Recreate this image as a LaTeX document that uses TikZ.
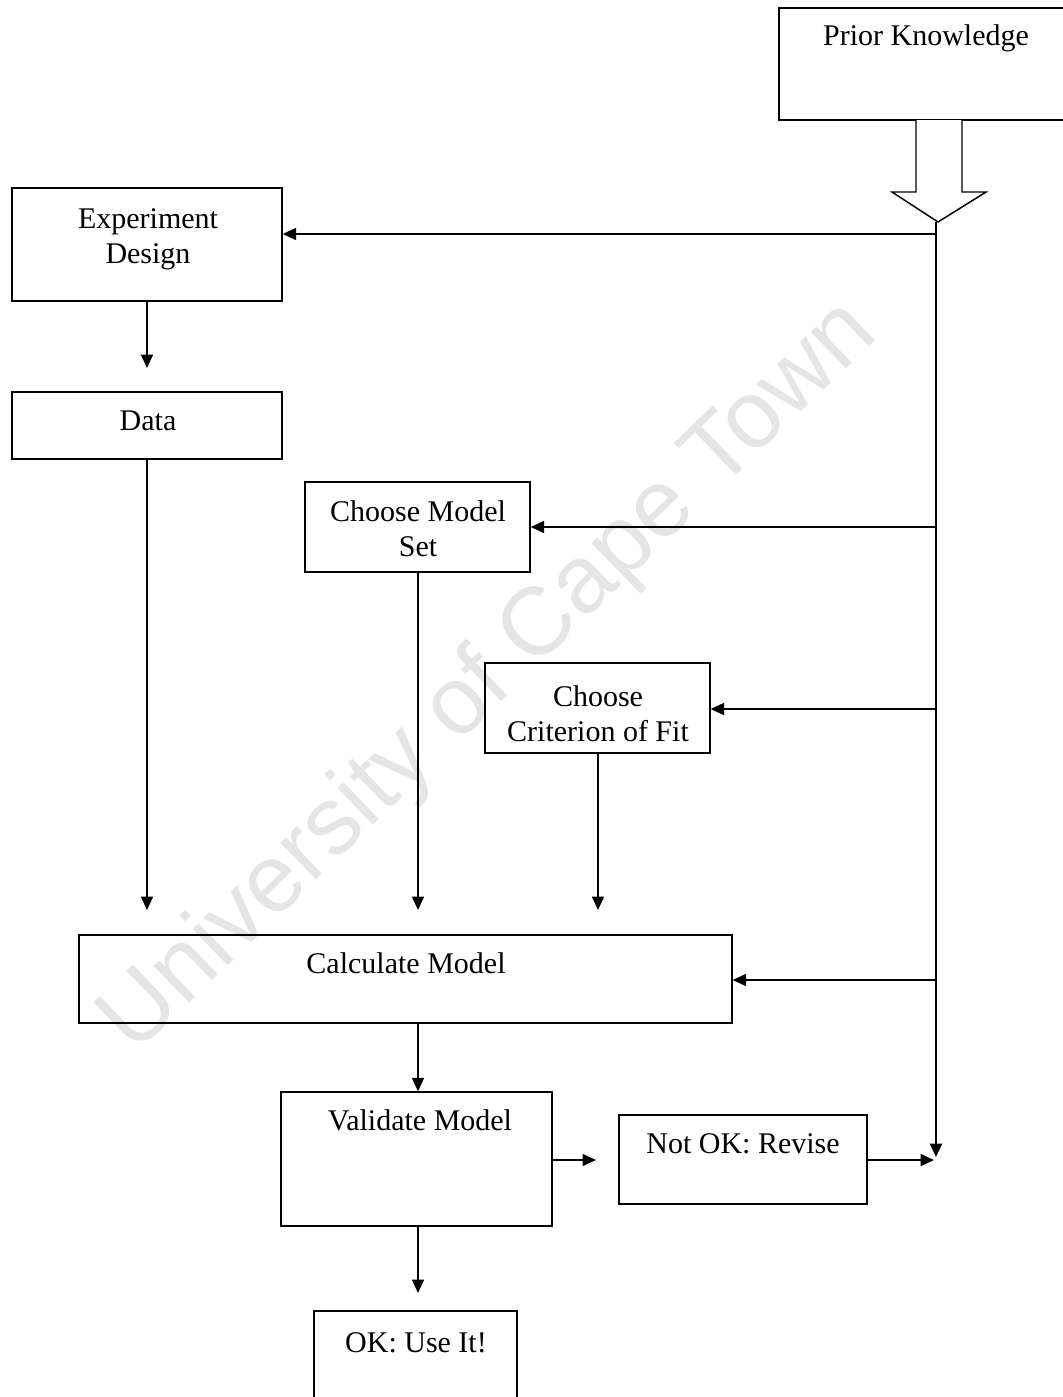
\documentclass[tikz,border=0pt]{standalone}
\usepackage{fontspec}
\setmainfont{Liberation Serif}
\newfontfamily\wmfont{Liberation Sans}
\usetikzlibrary{arrows.meta,fit}
\begin{document}
\begin{tikzpicture}[x=0.75pt,y=-0.75pt,
  box/.style={draw, line width=1.1pt, inner sep=0pt},
  txt/.style={font=\fontsize{22.5}{26.25}\selectfont, align=center, inner sep=0pt, anchor=base},
  arr/.style={line width=1.1pt, -{Triangle[length=10pt,width=9pt]}},
  spine/.style={line width=1.6pt}]
\useasboundingbox (0,0) rectangle (1063,1397);
% watermark
\node[rotate=44, text=black!10, font=\wmfont\fontsize{72}{72}\selectfont] (wm) at (490,678) {University of Cape Town};
% boxes
\node[box, fit={(779,8) (1090,120)}] (pk) {};
\node[box, fit={(12,188) (282,301)}] (exp) {};
\node[box, fit={(12,392) (282,459)}] (data) {};
\node[box, fit={(305,482) (530,572)}] (cms) {};
\node[box, fit={(485,663) (710,753)}] (ccf) {};
\node[box, fit={(79,935) (732,1023)}] (calc) {};
\node[box, fit={(281,1092) (552,1226)}] (val) {};
\node[box, fit={(619,1115) (867,1204)}] (nok) {};
\node[box, fit={(314,1311) (517,1420)}] (ok) {};
% texts (anchor base = baseline of the last line)
\node[txt] (pkT) at (926,45) {Prior Knowledge};
\node[txt] (expT) at (148,263) {Experiment\\Design};
\node[txt] (dataT) at (148,430) {Data};
\node[txt] (cmsT) at (418,556) {Choose Model\\Set};
\node[txt] (ccfT) at (598,741) {Choose\\Criterion of Fit};
\node[txt] (calcT) at (406,973) {Calculate Model};
\node[txt] (valT) at (420,1130) {Validate Model};
\node[txt] (nokT) at (743,1153) {Not OK: Revise};
\node[txt] (okT) at (416,1352) {OK: Use It!};
% block arrow from prior knowledge
\coordinate (tip) at (938,222);
\draw[line width=1.1pt, fill=white] (916,120) -- (916,192) -- (892,192) -- (tip) -- (986,192) -- (962,192) -- (962,120);
% spine
\coordinate (sTop) at (936,222);
\coordinate (sBot) at (936,1157);
\draw[spine, -{Triangle[length=10pt,width=9pt]}] (sTop) -- (sBot);
% branches from spine
\coordinate (j1) at (936,234);
\coordinate (j2) at (936,527);
\coordinate (j3) at (936,709);
\coordinate (j4) at (936,980);
\draw[arr] (j1) -- (j1 -| exp.east);
\draw[arr] (j2) -- (j2 -| cms.east);
\draw[arr] (j3) -- (j3 -| ccf.east);
\draw[arr] (j4) -- (j4 -| calc.east);
% free arrow ends
\coordinate (e1) at (147,368);
\coordinate (e2) at (147,910);
\coordinate (e3) at (418,910);
\coordinate (e4) at (598,910);
\coordinate (e5) at (596,1160);
\coordinate (e6) at (418,1293);
\coordinate (e7) at (934,1160);
\draw[arr] (exp.south -| e1) -- (e1);
\draw[arr] (data.south -| e2) -- (e2);
\draw[arr] (cms.south -| e3) -- (e3);
\draw[arr] (ccf.south -| e4) -- (e4);
\draw[arr] (calc.south -| e3) -- (val.north -| e3);
\draw[arr] (val.east |- e5) -- (e5);
\draw[arr] (val.south -| e6) -- (e6);
\draw[arr] (nok.east |- e7) -- (e7);
\end{tikzpicture}
\end{document}
